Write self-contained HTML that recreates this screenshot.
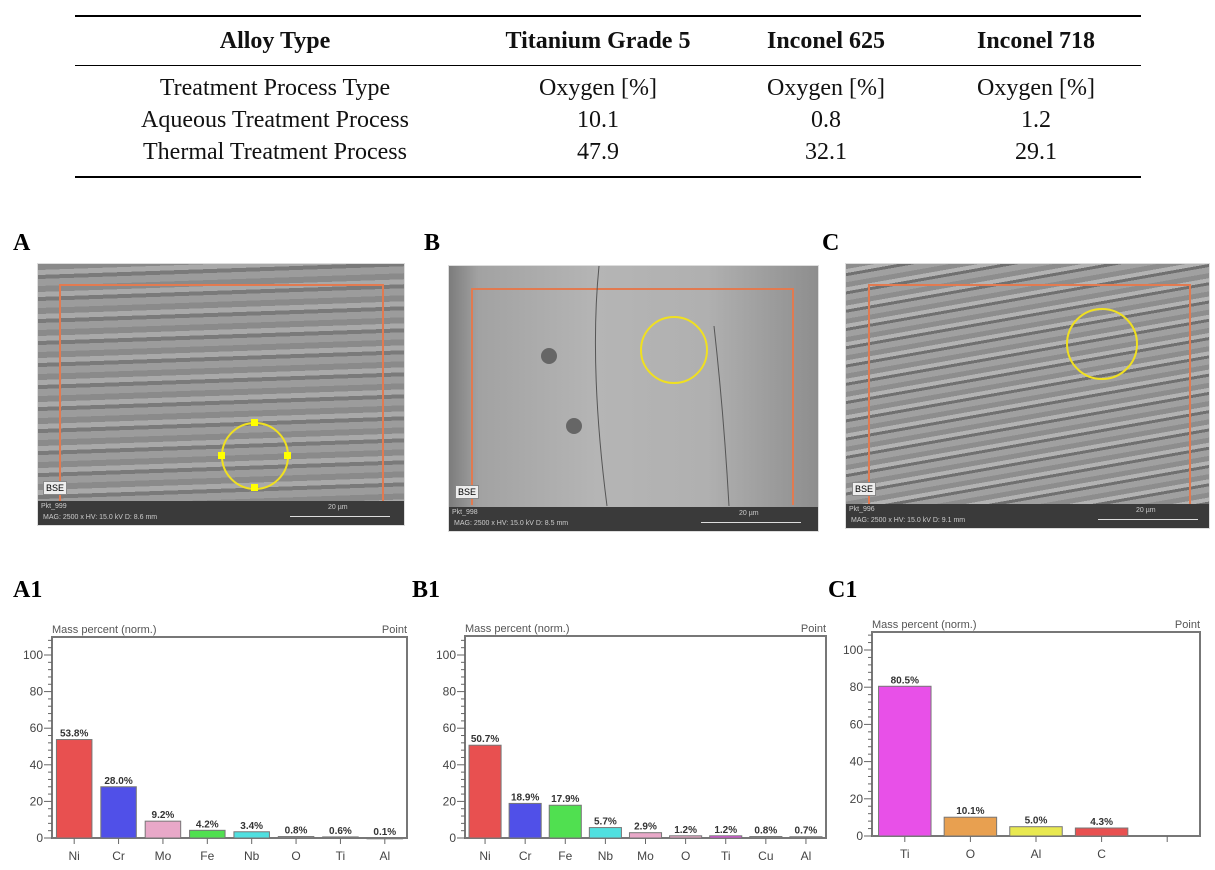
<!DOCTYPE html>
<html><head><meta charset="utf-8">
<style>
body{margin:0;width:1215px;height:870px;background:#fff;position:relative;overflow:hidden;font-family:"Liberation Serif",serif;}
.abs{position:absolute}
table{position:absolute;left:75px;top:15px;width:1066px;border-collapse:collapse;font-size:24px;color:#111;table-layout:fixed}
td,th{padding:0;text-align:center;line-height:32px;white-space:nowrap}
th{font-weight:bold;height:48px}
.pl{position:absolute;font-weight:bold;font-size:24px;font-family:"Liberation Serif",serif}
.sem{position:absolute;overflow:hidden;border:1px solid #ddd}
.band{position:absolute;left:0;right:0;bottom:0;height:24px;background:#3a3a3a;color:#ccc;font-family:"Liberation Sans",sans-serif;font-size:7px}
</style></head><body>
<table>
<colgroup><col style="width:400px"><col style="width:246px"><col style="width:210px"><col style="width:210px"></colgroup>
<tr style="border-top:2px solid #000;border-bottom:1px solid #000"><th>Alloy Type</th><th>Titanium Grade 5</th><th>Inconel 625</th><th>Inconel 718</th></tr>
<tr><td style="padding-top:6px">Treatment Process Type</td><td style="padding-top:6px">Oxygen [%]</td><td style="padding-top:6px">Oxygen [%]</td><td style="padding-top:6px">Oxygen [%]</td></tr>
<tr><td>Aqueous Treatment Process</td><td>10.1</td><td>0.8</td><td>1.2</td></tr>
<tr style="border-bottom:2px solid #000"><td style="padding-bottom:8px">Thermal Treatment Process</td><td style="padding-bottom:8px">47.9</td><td style="padding-bottom:8px">32.1</td><td style="padding-bottom:8px">29.1</td></tr>
</table>

<div class="pl" style="left:13px;top:230px">A</div>
<div class="pl" style="left:424px;top:230px">B</div>
<div class="pl" style="left:822px;top:230px">C</div>

<div class="sem" style="left:37px;top:263px;width:366px;height:261px;background:repeating-linear-gradient(178deg,#8a8a8a 0 6px,#a9a9a9 6px 11px,#7a7a7a 11px 15px,#9c9c9c 15px 22px)">
 <div class="abs" style="left:21px;top:20px;width:321px;height:218px;border:2px solid #e27a50;border-bottom:none"></div>
 <svg class="abs" style="left:0;top:0" width="366" height="261"><circle cx="217" cy="192" r="33" fill="none" stroke="#f0e020" stroke-width="2"/><rect x="213" y="155" width="7" height="7" fill="#ff0"/><rect x="180" y="188" width="7" height="7" fill="#ff0"/><rect x="246" y="188" width="7" height="7" fill="#ff0"/><rect x="213" y="220" width="7" height="7" fill="#ff0"/></svg>
 <div class="abs" style="left:5px;top:217px;background:#eee;border:1px solid #888;font:9px 'Liberation Sans',sans-serif;padding:1px 2px">BSE</div>
 <div class="band"><span class="abs" style="left:3px;top:2px">Pkt_999</span><span class="abs" style="left:5px;top:13px">MAG: 2500 x HV: 15.0 kV D: 8.6 mm</span><span class="abs" style="left:290px;top:3px">20 µm</span><div class="abs" style="left:252px;top:15px;width:100px;border-top:1px solid #ddd"></div></div>
</div>

<div class="sem" style="left:448px;top:265px;width:369px;height:265px;background:linear-gradient(90deg,#7c7c7c 0,#a2a2a2 8%,#b5b5b5 40%,#b0b0b0 70%,#8e8e8e 100%)">
 <div class="abs" style="left:22px;top:22px;width:319px;height:215px;border:2px solid #e27a50;border-bottom:none"></div>
 <svg class="abs" style="left:0;top:0" width="369" height="265"><path d="M150 0 Q140 100 158 240" stroke="#555" fill="none"/><path d="M265 60 Q275 150 280 240" stroke="#555" fill="none"/><circle cx="100" cy="90" r="8" fill="#666"/><circle cx="125" cy="160" r="8" fill="#666"/><circle cx="225" cy="84" r="33" fill="none" stroke="#f0e020" stroke-width="2"/></svg>
 <div class="abs" style="left:6px;top:219px;background:#eee;border:1px solid #888;font:9px 'Liberation Sans',sans-serif;padding:1px 2px">BSE</div>
 <div class="band"><span class="abs" style="left:3px;top:2px">Pkt_998</span><span class="abs" style="left:5px;top:13px">MAG: 2500 x HV: 15.0 kV D: 8.5 mm</span><span class="abs" style="left:290px;top:3px">20 µm</span><div class="abs" style="left:252px;top:15px;width:100px;border-top:1px solid #ddd"></div></div>
</div>

<div class="sem" style="left:845px;top:263px;width:363px;height:264px;background:repeating-linear-gradient(170deg,#8d8d8d 0 5px,#b3b3b3 5px 9px,#707070 9px 12px,#a0a0a0 12px 18px)">
 <div class="abs" style="left:22px;top:20px;width:319px;height:218px;border:2px solid #e27a50;border-bottom:none"></div>
 <svg class="abs" style="left:0;top:0" width="363" height="264"><circle cx="256" cy="80" r="35" fill="none" stroke="#f0e020" stroke-width="2"/></svg>
 <div class="abs" style="left:6px;top:218px;background:#eee;border:1px solid #888;font:9px 'Liberation Sans',sans-serif;padding:1px 2px">BSE</div>
 <div class="band"><span class="abs" style="left:3px;top:2px">Pkt_996</span><span class="abs" style="left:5px;top:13px">MAG: 2500 x HV: 15.0 kV D: 9.1 mm</span><span class="abs" style="left:290px;top:3px">20 µm</span><div class="abs" style="left:252px;top:15px;width:100px;border-top:1px solid #ddd"></div></div>
</div>

<div class="pl" style="left:13px;top:577px">A1</div>
<div class="pl" style="left:412px;top:577px">B1</div>
<div class="pl" style="left:828px;top:577px">C1</div>

<svg id="charts" class="abs" style="left:0;top:0" width="1215" height="870"></svg>
<script>
const catsA=["Ni","Cr","Mo","Fe","Nb","O","Ti","Al"];
const valsA=[53.8,28.0,9.2,4.2,3.4,0.8,0.6,0.1];
const colsA=["#e85050","#5050e8","#e8a8c8","#50e050","#50e0e0","#888","#888","#888"];
const catsB=["Ni","Cr","Fe","Nb","Mo","O","Ti","Cu","Al"];
const valsB=[50.7,18.9,17.9,5.7,2.9,1.2,1.2,0.8,0.7];
const colsB=["#e85050","#5050e8","#50e050","#50e0e0","#e8a8c8","#e8a8c8","#e050e0","#888","#888"];
const catsC=["Ti","O","Al","C",""];
const valsC=[80.5,10.1,5.0,4.3,null];
const colsC=["#e850e8","#e8a050","#e8e850","#e85050","#888"];
const yTicks=[0,20,40,60,80,100];
const svg=document.getElementById('charts');
const NS="http://www.w3.org/2000/svg";
function mk(t,a,txt){const e=document.createElementNS(NS,t);for(const k in a)e.setAttribute(k,a[k]);if(txt!==undefined)e.textContent=txt;svg.appendChild(e);return e;}
function chart(name,x0,x1,yTop,y0,y100,cats,vals,cols,bwFrac){
 const y=v=>y0-(y0-y100)*v/100;
 const f=mk('rect',{x:x0,y:yTop,width:x1-x0,height:y0-yTop,fill:'none',stroke:'#777','stroke-width':2});
 
 
 const t=mk('text',{x:x0,y:yTop-4,'font-size':11,fill:'#555','font-family':'Liberation Sans,sans-serif'},'Mass percent (norm.)');
 
 
 const p=mk('text',{x:x1,y:yTop-4,'font-size':11,fill:'#555','text-anchor':'end','font-family':'Liberation Sans,sans-serif'},'Point');
 
 
 for(let v=0;v<=110;v+=4){const yy=y(v);if(yy<yTop)break;mk('line',{x1:x0-(v%20==0?8:4),x2:x0,y1:yy,y2:yy,stroke:'#666'});}
 yTicks.forEach(v=>{const l=mk('text',{x:x0-9,y:y(v)+4,'font-size':12,fill:'#444','text-anchor':'end','font-family':'Liberation Sans,sans-serif'},String(v));
  
  });
 const slot=(x1-x0)/cats.length,bw=slot*bwFrac;
 cats.forEach((c,i)=>{const cx=x0+slot*(i+0.5);
  mk('line',{x1:cx,x2:cx,y1:y0,y2:y0+6,stroke:'#666'});
  const xl=mk('text',{x:cx,y:y0+22,'font-size':12,fill:'#444','text-anchor':'middle','font-family':'Liberation Sans,sans-serif'},c);
  
  
  const v=vals[i];if(v===null)return;
  const b=mk('rect',{x:cx-bw/2,y:y(v),width:bw,height:Math.max(y0-y(v),1),fill:cols[i],stroke:'#777','stroke-width':1});
  
  
  const vl=mk('text',{x:cx,y:y(v)-3,'font-size':10,'font-weight':'bold',fill:'#333','text-anchor':'middle','font-family':'Liberation Sans,sans-serif'},v.toFixed(1)+'%');
  
  
 });
}
chart('chart-a1',52,407,637,838,655,catsA,valsA,colsA,0.8);
chart('chart-b1',465,826,636,838,655,catsB,valsB,colsB,0.8);
chart('chart-c1',872,1200,632,836,650,catsC,valsC,colsC,0.8);
</script>
</body></html>
